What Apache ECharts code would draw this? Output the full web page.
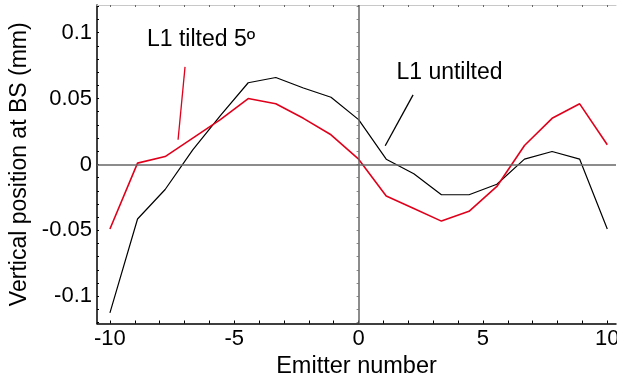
<!DOCTYPE html>
<html>
<head>
<meta charset="utf-8">
<script src="https://cdn.jsdelivr.net/npm/echarts@6/dist/echarts.min.js"></script>
<style>
  html, body { margin: 0; padding: 0; background: #fff; }
  #chart { width: 617px; height: 376px; }
</style>
</head>
<body>
<div id="chart"></div>
<script>
// Emitter positions along the bar (x) and the vertical beam position at BS (mm)
const emitters = [-10, -8.89, -7.78, -6.67, -5.56, -4.44, -3.33, -2.22, -1.11, 0,
                  1.11, 2.22, 3.33, 4.44, 5.56, 6.67, 7.78, 8.89, 10];
const untilted = [-0.1126, -0.0414, -0.019, 0.011, 0.037, 0.062, 0.066, 0.058, 0.051, 0.034,
                  0.004, -0.007, -0.023, -0.023, -0.015, 0.004, 0.0098, 0.004, -0.049];
const tilted5 = [-0.049, 0.001, 0.006, 0.020, 0.034, 0.050, 0.046, 0.035, 0.0225, 0.004,
                 -0.024, -0.0335, -0.043, -0.0356, -0.0167, 0.0144, 0.035, 0.046, 0.015];

// Axis tick values
const xTickLabels = [-10, -5, 0, 5, 10];
const xMinorTicks = [-10, -9, -8, -7, -6, -5, -4, -3, -2, -1, 0, 1, 2, 3, 4, 5, 6, 7, 8, 9, 10];
const yTickLabels = [-0.1, -0.05, 0, 0.05, 0.1];
const yMinorTicks = [-0.12, -0.11, -0.1, -0.09, -0.08, -0.07, -0.06, -0.05, -0.04, -0.03, -0.02, -0.01, 0,
                     0.01, 0.02, 0.03, 0.04, 0.05, 0.06, 0.07, 0.08, 0.09, 0.1, 0.11, 0.12];

// Callout text and leader lines (data coordinates)
const tiltedLabel = { text: 'L1 tilted 5º', at: [-8.51, 0.0945] };
const untiltedLabel = { text: 'L1 untilted', at: [1.52, 0.0695] };
const tiltedLeader = [[-6.98, 0.074], [-7.26, 0.0187]];
const untiltedLeader = [[2.19, 0.0528], [1.07, 0.0142]];

const X_MIN = -10.52, X_MAX = 10.35, Y_MIN = -0.1207, Y_MAX = 0.121;
const FONT = '"Liberation Sans", Arial, Helvetica, sans-serif';
const RED = '#e0001b';

const pairs = (ys) => emitters.map((x, i) => [x, ys[i]]);

const chart = echarts.init(document.getElementById('chart'), null, { renderer: 'canvas' });

const calloutSeries = (item) => ({
  type: 'scatter',
  silent: true,
  symbolSize: 0,
  itemStyle: { opacity: 1 },
  data: [item.at],
  label: {
    show: true,
    position: [0, 0],
    align: 'left',
    verticalAlign: 'middle',
    formatter: item.text,
    color: '#000',
    opacity: 1,
    textBorderWidth: 0,
    fontFamily: FONT,
    fontSize: 23
  },
  z: 5
});

const leaderSeries = (pts, color) => ({
  type: 'line',
  silent: true,
  data: pts,
  symbol: 'none',
  lineStyle: { color: color, width: 1.3 },
  z: 4
});

chart.setOption({
  animation: false,
  backgroundColor: '#fff',
  grid: { left: 97, right: 1, top: 5, bottom: 52.5, containLabel: false, outerBoundsMode: 'none' },
  xAxis: [
    {
      type: 'value', position: 'bottom', min: X_MIN, max: X_MAX,
      name: 'Emitter number', nameLocation: 'middle', nameGap: 19,
      nameTextStyle: { fontFamily: FONT, fontSize: 23.5, color: '#000' },
      axisLine: { show: true, onZero: false, lineStyle: { color: '#000', width: 1.5 } },
      axisTick: { show: true, inside: true, length: 3, customValues: xMinorTicks,
                  lineStyle: { color: '#000', width: 1 } },
      axisLabel: { show: true, customValues: xTickLabels, margin: 4,
                   fontFamily: FONT, fontSize: 22, color: '#000' },
      splitLine: { show: false }
    },
    {
      type: 'value', position: 'top', min: X_MIN, max: X_MAX,
      axisLine: { show: true, onZero: false, lineStyle: { color: '#c8c8c8', width: 1 } },
      axisTick: { show: true, inside: true, length: 2, customValues: xMinorTicks,
                  lineStyle: { color: '#666', width: 1 } },
      axisLabel: { show: false },
      splitLine: { show: false }
    }
  ],
  yAxis: [
    {
      type: 'value', position: 'left', min: Y_MIN, max: Y_MAX,
      name: 'Vertical position at BS (mm)', nameLocation: 'middle', nameGap: 62, nameRotate: 90,
      nameTextStyle: { fontFamily: FONT, fontSize: 23, color: '#000' },
      axisLine: { show: true, onZero: false, lineStyle: { color: '#000', width: 1.5 } },
      axisTick: { show: true, inside: true, length: 2, customValues: yMinorTicks,
                  lineStyle: { color: '#000', width: 1 } },
      axisLabel: { show: true, customValues: yTickLabels, margin: 5,
                   fontFamily: FONT, fontSize: 22, color: '#000',
                   formatter: (v) => String(Math.round(v * 1000) / 1000) },
      splitLine: { show: false }
    },
    {
      type: 'value', position: 'right', min: Y_MIN, max: Y_MAX,
      axisLine: { show: false },
      axisTick: { show: true, inside: true, length: 2, customValues: yMinorTicks,
                  lineStyle: { color: '#888', width: 1 } },
      axisLabel: { show: false },
      splitLine: { show: false }
    }
  ],
  series: [
    {
      name: 'zero lines',
      type: 'line',
      silent: true,
      data: [],
      markLine: {
        silent: true,
        symbol: 'none',
        label: { show: false },
        lineStyle: { color: '#666', width: 1.5, type: 'solid' },
        data: [{ yAxis: 0 }, { xAxis: 0 }]
      },
      z: 1
    },
    {
      name: 'L1 untilted',
      type: 'line',
      data: pairs(untilted),
      symbol: 'none',
      lineStyle: { color: '#000', width: 1.2 },
      z: 3
    },
    {
      name: 'L1 tilted 5º',
      type: 'line',
      data: pairs(tilted5),
      symbol: 'none',
      lineStyle: { color: RED, width: 1.6 },
      z: 3
    },
    leaderSeries(tiltedLeader, RED),
    leaderSeries(untiltedLeader, '#000'),
    calloutSeries(tiltedLabel),
    calloutSeries(untiltedLabel)
  ]
});
</script>
</body>
</html>
